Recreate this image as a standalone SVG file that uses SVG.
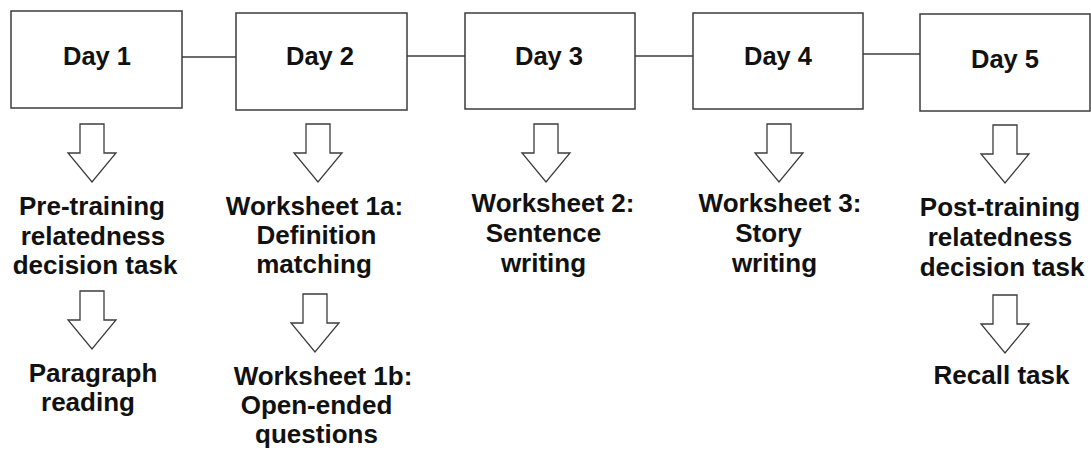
<svg xmlns="http://www.w3.org/2000/svg" xmlns:xlink="http://www.w3.org/1999/xlink" width="1091" height="450" viewBox="0 0 1091 450">
  <style>
    .box { fill: #ffffff; stroke: #3c3c3c; stroke-width: 1.5; }
    .link { stroke: #3c3c3c; stroke-width: 1.5; fill: none; }
    .arrow { fill: #ffffff; stroke: #3c3c3c; stroke-width: 1.3; stroke-linejoin: miter; }
    .day { font-family: "Liberation Sans", Arial, sans-serif; font-weight: bold; font-size: 25.5px; fill: #111111; text-anchor: middle; }
    .step { font-family: "Liberation Sans", Arial, sans-serif; font-weight: bold; font-size: 26px; fill: #111111; text-anchor: middle; }
  </style>
  <defs>
    <!-- hollow block arrow pointing down, origin at top-centre of the shaft -->
    <path id="down" class="arrow" d="M -12 0 H 12 V 29 H 24 L 0 58 L -24 29 H -12 Z"/>
  </defs>
  <rect width="1091" height="450" fill="#ffffff"/>

  <g id="connectors">
    <line class="link" x1="182" y1="57" x2="236" y2="57"/>
    <line class="link" x1="407" y1="56" x2="465" y2="56"/>
    <line class="link" x1="635" y1="56" x2="693" y2="56"/>
    <line class="link" x1="863" y1="54" x2="920" y2="54"/>
    <use xlink:href="#down" x="92" y="124"/>
    <use xlink:href="#down" x="318" y="124"/>
    <use xlink:href="#down" x="546" y="124"/>
    <use xlink:href="#down" x="779" y="124"/>
    <use xlink:href="#down" x="1005" y="125"/>
    <use xlink:href="#down" x="92" y="291"/>
    <use xlink:href="#down" x="315" y="294"/>
    <use xlink:href="#down" x="1005" y="295"/>
  </g>

  <g id="day1">
    <rect class="box" x="11" y="11" width="171" height="97"/>
    <text class="day" x="97" y="65">Day 1</text>
  </g>
  <g id="day2">
    <rect class="box" x="236" y="13" width="171" height="97"/>
    <text class="day" x="320" y="65">Day 2</text>
  </g>
  <g id="day3">
    <rect class="box" x="465" y="13" width="170" height="96"/>
    <text class="day" x="549" y="65">Day 3</text>
  </g>
  <g id="day4">
    <rect class="box" x="693" y="13" width="170" height="96"/>
    <text class="day" x="778" y="65">Day 4</text>
  </g>
  <g id="day5">
    <rect class="box" x="920" y="14" width="170" height="97"/>
    <text class="day" x="1005" y="68">Day 5</text>
  </g>

  <g id="pretraining-task">
    <text class="step" x="92" y="215">Pre-training</text>
    <text class="step" x="93" y="244.5">relatedness</text>
    <text class="step" x="95" y="274">decision task</text>
  </g>
  <g id="paragraph-reading">
    <text class="step" x="93" y="382">Paragraph</text>
    <text class="step" x="88" y="411">reading</text>
  </g>
  <g id="worksheet-1a">
    <text class="step" x="314.5" y="215">Worksheet 1a:</text>
    <text class="step" x="316.5" y="244">Definition</text>
    <text class="step" x="314" y="273">matching</text>
  </g>
  <g id="worksheet-1b">
    <text class="step" x="323" y="385">Worksheet 1b:</text>
    <text class="step" x="316.5" y="414">Open-ended</text>
    <text class="step" x="316.5" y="443">questions</text>
  </g>
  <g id="worksheet-2">
    <text class="step" x="553" y="212">Worksheet 2:</text>
    <text class="step" x="543.5" y="242">Sentence</text>
    <text class="step" x="543.5" y="272">writing</text>
  </g>
  <g id="worksheet-3">
    <text class="step" x="780" y="212">Worksheet 3:</text>
    <text class="step" x="768.5" y="242">Story</text>
    <text class="step" x="774.5" y="272">writing</text>
  </g>
  <g id="posttraining-task">
    <text class="step" x="1000" y="215.5">Post-training</text>
    <text class="step" x="1000" y="245.5">relatedness</text>
    <text class="step" x="1002" y="276">decision task</text>
  </g>
  <g id="recall-task">
    <text class="step" x="1001.5" y="384">Recall task</text>
  </g>
</svg>
